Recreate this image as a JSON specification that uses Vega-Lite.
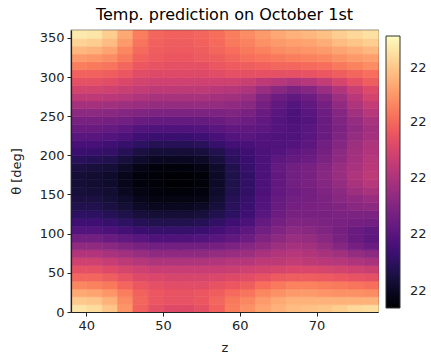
{
"$schema":"https://vega.github.io/schema/vega-lite/v6.json",
"width":307,"height":282,
"autosize":{"type":"none"},
"padding":{"left":71,"top":30,"right":53,"bottom":46},
"background":"white",
"title":{"text":"Temp. prediction on October 1st","fontSize":16,"fontWeight":"normal","font":"DejaVu Sans","color":"#000","anchor":"middle","offset":7},
"data":{"values":[
{"z":38,"t":0,"T":22.095},{"z":40,"t":0,"T":22.093},{"z":42,"t":0,"T":22.088},{"z":44,"t":0,"T":22.078},{"z":46,"t":0,"T":22.067},{"z":48,"t":0,"T":22.062},{"z":50,"t":0,"T":22.060},{"z":52,"t":0,"T":22.060},{"z":54,"t":0,"T":22.062},{"z":56,"t":0,"T":22.067},{"z":58,"t":0,"T":22.073},{"z":60,"t":0,"T":22.077},{"z":62,"t":0,"T":22.081},{"z":64,"t":0,"T":22.084},{"z":66,"t":0,"T":22.086},{"z":68,"t":0,"T":22.087},{"z":70,"t":0,"T":22.088},{"z":72,"t":0,"T":22.090},{"z":74,"t":0,"T":22.092},{"z":76,"t":0,"T":22.093},
{"z":38,"t":10,"T":22.089},{"z":40,"t":10,"T":22.088},{"z":42,"t":10,"T":22.084},{"z":44,"t":10,"T":22.076},{"z":46,"t":10,"T":22.068},{"z":48,"t":10,"T":22.064},{"z":50,"t":10,"T":22.063},{"z":52,"t":10,"T":22.063},{"z":54,"t":10,"T":22.064},{"z":56,"t":10,"T":22.068},{"z":58,"t":10,"T":22.072},{"z":60,"t":10,"T":22.075},{"z":62,"t":10,"T":22.079},{"z":64,"t":10,"T":22.082},{"z":66,"t":10,"T":22.084},{"z":68,"t":10,"T":22.084},{"z":70,"t":10,"T":22.084},{"z":72,"t":10,"T":22.084},{"z":74,"t":10,"T":22.084},{"z":76,"t":10,"T":22.084},
{"z":38,"t":20,"T":22.082},{"z":40,"t":20,"T":22.081},{"z":42,"t":20,"T":22.078},{"z":44,"t":20,"T":22.073},{"z":46,"t":20,"T":22.067},{"z":48,"t":20,"T":22.064},{"z":50,"t":20,"T":22.063},{"z":52,"t":20,"T":22.063},{"z":54,"t":20,"T":22.064},{"z":56,"t":20,"T":22.066},{"z":58,"t":20,"T":22.069},{"z":60,"t":20,"T":22.071},{"z":62,"t":20,"T":22.075},{"z":64,"t":20,"T":22.077},{"z":66,"t":20,"T":22.079},{"z":68,"t":20,"T":22.079},{"z":70,"t":20,"T":22.078},{"z":72,"t":20,"T":22.077},{"z":74,"t":20,"T":22.077},{"z":76,"t":20,"T":22.076},
{"z":38,"t":30,"T":22.075},{"z":40,"t":30,"T":22.074},{"z":42,"t":30,"T":22.072},{"z":44,"t":30,"T":22.068},{"z":46,"t":30,"T":22.064},{"z":48,"t":30,"T":22.062},{"z":50,"t":30,"T":22.061},{"z":52,"t":30,"T":22.061},{"z":54,"t":30,"T":22.061},{"z":56,"t":30,"T":22.063},{"z":58,"t":30,"T":22.064},{"z":60,"t":30,"T":22.066},{"z":62,"t":30,"T":22.070},{"z":64,"t":30,"T":22.072},{"z":66,"t":30,"T":22.074},{"z":68,"t":30,"T":22.074},{"z":70,"t":30,"T":22.073},{"z":72,"t":30,"T":22.072},{"z":74,"t":30,"T":22.071},{"z":76,"t":30,"T":22.070},
{"z":38,"t":40,"T":22.068},{"z":40,"t":40,"T":22.068},{"z":42,"t":40,"T":22.066},{"z":44,"t":40,"T":22.063},{"z":46,"t":40,"T":22.060},{"z":48,"t":40,"T":22.059},{"z":50,"t":40,"T":22.058},{"z":52,"t":40,"T":22.058},{"z":54,"t":40,"T":22.058},{"z":56,"t":40,"T":22.059},{"z":58,"t":40,"T":22.060},{"z":60,"t":40,"T":22.061},{"z":62,"t":40,"T":22.063},{"z":64,"t":40,"T":22.065},{"z":66,"t":40,"T":22.066},{"z":68,"t":40,"T":22.066},{"z":70,"t":40,"T":22.065},{"z":72,"t":40,"T":22.064},{"z":74,"t":40,"T":22.063},{"z":76,"t":40,"T":22.062},
{"z":38,"t":50,"T":22.062},{"z":40,"t":50,"T":22.062},{"z":42,"t":50,"T":22.060},{"z":44,"t":50,"T":22.058},{"z":46,"t":50,"T":22.056},{"z":48,"t":50,"T":22.054},{"z":50,"t":50,"T":22.054},{"z":52,"t":50,"T":22.054},{"z":54,"t":50,"T":22.054},{"z":56,"t":50,"T":22.054},{"z":58,"t":50,"T":22.055},{"z":60,"t":50,"T":22.056},{"z":62,"t":50,"T":22.057},{"z":64,"t":50,"T":22.058},{"z":66,"t":50,"T":22.059},{"z":68,"t":50,"T":22.059},{"z":70,"t":50,"T":22.058},{"z":72,"t":50,"T":22.057},{"z":74,"t":50,"T":22.056},{"z":76,"t":50,"T":22.055},
{"z":38,"t":60,"T":22.056},{"z":40,"t":60,"T":22.056},{"z":42,"t":60,"T":22.054},{"z":44,"t":60,"T":22.052},{"z":46,"t":60,"T":22.050},{"z":48,"t":60,"T":22.048},{"z":50,"t":60,"T":22.048},{"z":52,"t":60,"T":22.048},{"z":54,"t":60,"T":22.048},{"z":56,"t":60,"T":22.049},{"z":58,"t":60,"T":22.050},{"z":60,"t":60,"T":22.050},{"z":62,"t":60,"T":22.052},{"z":64,"t":60,"T":22.052},{"z":66,"t":60,"T":22.053},{"z":68,"t":60,"T":22.052},{"z":70,"t":60,"T":22.051},{"z":72,"t":60,"T":22.050},{"z":74,"t":60,"T":22.048},{"z":76,"t":60,"T":22.047},
{"z":38,"t":70,"T":22.049},{"z":40,"t":70,"T":22.049},{"z":42,"t":70,"T":22.047},{"z":44,"t":70,"T":22.045},{"z":46,"t":70,"T":22.043},{"z":48,"t":70,"T":22.041},{"z":50,"t":70,"T":22.041},{"z":52,"t":70,"T":22.041},{"z":54,"t":70,"T":22.041},{"z":56,"t":70,"T":22.042},{"z":58,"t":70,"T":22.043},{"z":60,"t":70,"T":22.044},{"z":62,"t":70,"T":22.047},{"z":64,"t":70,"T":22.049},{"z":66,"t":70,"T":22.050},{"z":68,"t":70,"T":22.049},{"z":70,"t":70,"T":22.047},{"z":72,"t":70,"T":22.045},{"z":74,"t":70,"T":22.042},{"z":76,"t":70,"T":22.040},
{"z":38,"t":80,"T":22.041},{"z":40,"t":80,"T":22.041},{"z":42,"t":80,"T":22.039},{"z":44,"t":80,"T":22.037},{"z":46,"t":80,"T":22.035},{"z":48,"t":80,"T":22.033},{"z":50,"t":80,"T":22.033},{"z":52,"t":80,"T":22.033},{"z":54,"t":80,"T":22.033},{"z":56,"t":80,"T":22.034},{"z":58,"t":80,"T":22.036},{"z":60,"t":80,"T":22.038},{"z":62,"t":80,"T":22.041},{"z":64,"t":80,"T":22.044},{"z":66,"t":80,"T":22.046},{"z":68,"t":80,"T":22.045},{"z":70,"t":80,"T":22.042},{"z":72,"t":80,"T":22.038},{"z":74,"t":80,"T":22.034},{"z":76,"t":80,"T":22.031},
{"z":38,"t":90,"T":22.033},{"z":40,"t":90,"T":22.033},{"z":42,"t":90,"T":22.031},{"z":44,"t":90,"T":22.029},{"z":46,"t":90,"T":22.027},{"z":48,"t":90,"T":22.025},{"z":50,"t":90,"T":22.025},{"z":52,"t":90,"T":22.025},{"z":54,"t":90,"T":22.026},{"z":56,"t":90,"T":22.027},{"z":58,"t":90,"T":22.029},{"z":60,"t":90,"T":22.032},{"z":62,"t":90,"T":22.037},{"z":64,"t":90,"T":22.040},{"z":66,"t":90,"T":22.043},{"z":68,"t":90,"T":22.042},{"z":70,"t":90,"T":22.039},{"z":72,"t":90,"T":22.035},{"z":74,"t":90,"T":22.031},{"z":76,"t":90,"T":22.028},
{"z":38,"t":100,"T":22.026},{"z":40,"t":100,"T":22.026},{"z":42,"t":100,"T":22.024},{"z":44,"t":100,"T":22.022},{"z":46,"t":100,"T":22.020},{"z":48,"t":100,"T":22.019},{"z":50,"t":100,"T":22.019},{"z":52,"t":100,"T":22.019},{"z":54,"t":100,"T":22.020},{"z":56,"t":100,"T":22.022},{"z":58,"t":100,"T":22.025},{"z":60,"t":100,"T":22.028},{"z":62,"t":100,"T":22.033},{"z":64,"t":100,"T":22.037},{"z":66,"t":100,"T":22.040},{"z":68,"t":100,"T":22.039},{"z":70,"t":100,"T":22.037},{"z":72,"t":100,"T":22.034},{"z":74,"t":100,"T":22.031},{"z":76,"t":100,"T":22.029},
{"z":38,"t":110,"T":22.021},{"z":40,"t":110,"T":22.021},{"z":42,"t":110,"T":22.019},{"z":44,"t":110,"T":22.017},{"z":46,"t":110,"T":22.015},{"z":48,"t":110,"T":22.014},{"z":50,"t":110,"T":22.014},{"z":52,"t":110,"T":22.014},{"z":54,"t":110,"T":22.015},{"z":56,"t":110,"T":22.018},{"z":58,"t":110,"T":22.021},{"z":60,"t":110,"T":22.024},{"z":62,"t":110,"T":22.030},{"z":64,"t":110,"T":22.034},{"z":66,"t":110,"T":22.037},{"z":68,"t":110,"T":22.037},{"z":70,"t":110,"T":22.036},{"z":72,"t":110,"T":22.035},{"z":74,"t":110,"T":22.034},{"z":76,"t":110,"T":22.033},
{"z":38,"t":120,"T":22.017},{"z":40,"t":120,"T":22.017},{"z":42,"t":120,"T":22.015},{"z":44,"t":120,"T":22.013},{"z":46,"t":120,"T":22.011},{"z":48,"t":120,"T":22.010},{"z":50,"t":120,"T":22.010},{"z":52,"t":120,"T":22.010},{"z":54,"t":120,"T":22.011},{"z":56,"t":120,"T":22.014},{"z":58,"t":120,"T":22.017},{"z":60,"t":120,"T":22.021},{"z":62,"t":120,"T":22.027},{"z":64,"t":120,"T":22.032},{"z":66,"t":120,"T":22.035},{"z":68,"t":120,"T":22.035},{"z":70,"t":120,"T":22.035},{"z":72,"t":120,"T":22.036},{"z":74,"t":120,"T":22.036},{"z":76,"t":120,"T":22.036},
{"z":38,"t":130,"T":22.014},{"z":40,"t":130,"T":22.014},{"z":42,"t":130,"T":22.012},{"z":44,"t":130,"T":22.010},{"z":46,"t":130,"T":22.007},{"z":48,"t":130,"T":22.006},{"z":50,"t":130,"T":22.006},{"z":52,"t":130,"T":22.006},{"z":54,"t":130,"T":22.007},{"z":56,"t":130,"T":22.011},{"z":58,"t":130,"T":22.016},{"z":60,"t":130,"T":22.020},{"z":62,"t":130,"T":22.026},{"z":64,"t":130,"T":22.031},{"z":66,"t":130,"T":22.034},{"z":68,"t":130,"T":22.035},{"z":70,"t":130,"T":22.036},{"z":72,"t":130,"T":22.037},{"z":74,"t":130,"T":22.039},{"z":76,"t":130,"T":22.040},
{"z":38,"t":140,"T":22.012},{"z":40,"t":140,"T":22.012},{"z":42,"t":140,"T":22.010},{"z":44,"t":140,"T":22.008},{"z":46,"t":140,"T":22.005},{"z":48,"t":140,"T":22.003},{"z":50,"t":140,"T":22.003},{"z":52,"t":140,"T":22.003},{"z":54,"t":140,"T":22.004},{"z":56,"t":140,"T":22.009},{"z":58,"t":140,"T":22.015},{"z":60,"t":140,"T":22.019},{"z":62,"t":140,"T":22.025},{"z":64,"t":140,"T":22.030},{"z":66,"t":140,"T":22.033},{"z":68,"t":140,"T":22.034},{"z":70,"t":140,"T":22.036},{"z":72,"t":140,"T":22.039},{"z":74,"t":140,"T":22.041},{"z":76,"t":140,"T":22.043},
{"z":38,"t":150,"T":22.011},{"z":40,"t":150,"T":22.010},{"z":42,"t":150,"T":22.009},{"z":44,"t":150,"T":22.006},{"z":46,"t":150,"T":22.003},{"z":48,"t":150,"T":22.002},{"z":50,"t":150,"T":22.001},{"z":52,"t":150,"T":22.001},{"z":54,"t":150,"T":22.002},{"z":56,"t":150,"T":22.008},{"z":58,"t":150,"T":22.014},{"z":60,"t":150,"T":22.018},{"z":62,"t":150,"T":22.024},{"z":64,"t":150,"T":22.029},{"z":66,"t":150,"T":22.032},{"z":68,"t":150,"T":22.034},{"z":70,"t":150,"T":22.037},{"z":72,"t":150,"T":22.040},{"z":74,"t":150,"T":22.044},{"z":76,"t":150,"T":22.047},
{"z":38,"t":160,"T":22.010},{"z":40,"t":160,"T":22.009},{"z":42,"t":160,"T":22.008},{"z":44,"t":160,"T":22.005},{"z":46,"t":160,"T":22.002},{"z":48,"t":160,"T":22.001},{"z":50,"t":160,"T":22.000},{"z":52,"t":160,"T":22.000},{"z":54,"t":160,"T":22.001},{"z":56,"t":160,"T":22.007},{"z":58,"t":160,"T":22.013},{"z":60,"t":160,"T":22.018},{"z":62,"t":160,"T":22.024},{"z":64,"t":160,"T":22.029},{"z":66,"t":160,"T":22.033},{"z":68,"t":160,"T":22.035},{"z":70,"t":160,"T":22.038},{"z":72,"t":160,"T":22.042},{"z":74,"t":160,"T":22.047},{"z":76,"t":160,"T":22.050},
{"z":38,"t":170,"T":22.010},{"z":40,"t":170,"T":22.009},{"z":42,"t":170,"T":22.008},{"z":44,"t":170,"T":22.005},{"z":46,"t":170,"T":22.002},{"z":48,"t":170,"T":22.001},{"z":50,"t":170,"T":22.000},{"z":52,"t":170,"T":22.000},{"z":54,"t":170,"T":22.001},{"z":56,"t":170,"T":22.007},{"z":58,"t":170,"T":22.013},{"z":60,"t":170,"T":22.018},{"z":62,"t":170,"T":22.024},{"z":64,"t":170,"T":22.029},{"z":66,"t":170,"T":22.033},{"z":68,"t":170,"T":22.035},{"z":70,"t":170,"T":22.039},{"z":72,"t":170,"T":22.043},{"z":74,"t":170,"T":22.048},{"z":76,"t":170,"T":22.052},
{"z":38,"t":180,"T":22.012},{"z":40,"t":180,"T":22.011},{"z":42,"t":180,"T":22.010},{"z":44,"t":180,"T":22.007},{"z":46,"t":180,"T":22.004},{"z":48,"t":180,"T":22.002},{"z":50,"t":180,"T":22.002},{"z":52,"t":180,"T":22.002},{"z":54,"t":180,"T":22.003},{"z":56,"t":180,"T":22.008},{"z":58,"t":180,"T":22.014},{"z":60,"t":180,"T":22.019},{"z":62,"t":180,"T":22.024},{"z":64,"t":180,"T":22.030},{"z":66,"t":180,"T":22.033},{"z":68,"t":180,"T":22.035},{"z":70,"t":180,"T":22.038},{"z":72,"t":180,"T":22.043},{"z":74,"t":180,"T":22.047},{"z":76,"t":180,"T":22.051},
{"z":38,"t":190,"T":22.016},{"z":40,"t":190,"T":22.015},{"z":42,"t":190,"T":22.014},{"z":44,"t":190,"T":22.011},{"z":46,"t":190,"T":22.008},{"z":48,"t":190,"T":22.006},{"z":50,"t":190,"T":22.006},{"z":52,"t":190,"T":22.006},{"z":54,"t":190,"T":22.007},{"z":56,"t":190,"T":22.011},{"z":58,"t":190,"T":22.016},{"z":60,"t":190,"T":22.020},{"z":62,"t":190,"T":22.024},{"z":64,"t":190,"T":22.028},{"z":66,"t":190,"T":22.030},{"z":68,"t":190,"T":22.032},{"z":70,"t":190,"T":22.036},{"z":72,"t":190,"T":22.041},{"z":74,"t":190,"T":22.046},{"z":76,"t":190,"T":22.050},
{"z":38,"t":200,"T":22.020},{"z":40,"t":200,"T":22.019},{"z":42,"t":200,"T":22.018},{"z":44,"t":200,"T":22.015},{"z":46,"t":200,"T":22.012},{"z":48,"t":200,"T":22.010},{"z":50,"t":200,"T":22.010},{"z":52,"t":200,"T":22.010},{"z":54,"t":200,"T":22.011},{"z":56,"t":200,"T":22.014},{"z":58,"t":200,"T":22.018},{"z":60,"t":200,"T":22.021},{"z":62,"t":200,"T":22.024},{"z":64,"t":200,"T":22.026},{"z":66,"t":200,"T":22.028},{"z":68,"t":200,"T":22.030},{"z":70,"t":200,"T":22.034},{"z":72,"t":200,"T":22.040},{"z":74,"t":200,"T":22.045},{"z":76,"t":200,"T":22.049},
{"z":38,"t":210,"T":22.023},{"z":40,"t":210,"T":22.023},{"z":42,"t":210,"T":22.021},{"z":44,"t":210,"T":22.019},{"z":46,"t":210,"T":22.017},{"z":48,"t":210,"T":22.015},{"z":50,"t":210,"T":22.015},{"z":52,"t":210,"T":22.015},{"z":54,"t":210,"T":22.016},{"z":56,"t":210,"T":22.019},{"z":58,"t":210,"T":22.022},{"z":60,"t":210,"T":22.023},{"z":62,"t":210,"T":22.025},{"z":64,"t":210,"T":22.025},{"z":66,"t":210,"T":22.026},{"z":68,"t":210,"T":22.028},{"z":70,"t":210,"T":22.033},{"z":72,"t":210,"T":22.038},{"z":74,"t":210,"T":22.044},{"z":76,"t":210,"T":22.048},
{"z":38,"t":220,"T":22.027},{"z":40,"t":220,"T":22.027},{"z":42,"t":220,"T":22.026},{"z":44,"t":220,"T":22.024},{"z":46,"t":220,"T":22.021},{"z":48,"t":220,"T":22.020},{"z":50,"t":220,"T":22.020},{"z":52,"t":220,"T":22.020},{"z":54,"t":220,"T":22.021},{"z":56,"t":220,"T":22.023},{"z":58,"t":220,"T":22.026},{"z":60,"t":220,"T":22.027},{"z":62,"t":220,"T":22.026},{"z":64,"t":220,"T":22.025},{"z":66,"t":220,"T":22.025},{"z":68,"t":220,"T":22.027},{"z":70,"t":220,"T":22.031},{"z":72,"t":220,"T":22.037},{"z":74,"t":220,"T":22.042},{"z":76,"t":220,"T":22.046},
{"z":38,"t":230,"T":22.031},{"z":40,"t":230,"T":22.031},{"z":42,"t":230,"T":22.030},{"z":44,"t":230,"T":22.028},{"z":46,"t":230,"T":22.026},{"z":48,"t":230,"T":22.025},{"z":50,"t":230,"T":22.025},{"z":52,"t":230,"T":22.025},{"z":54,"t":230,"T":22.026},{"z":56,"t":230,"T":22.027},{"z":58,"t":230,"T":22.029},{"z":60,"t":230,"T":22.029},{"z":62,"t":230,"T":22.028},{"z":64,"t":230,"T":22.026},{"z":66,"t":230,"T":22.025},{"z":68,"t":230,"T":22.027},{"z":70,"t":230,"T":22.031},{"z":72,"t":230,"T":22.036},{"z":74,"t":230,"T":22.041},{"z":76,"t":230,"T":22.045},
{"z":38,"t":240,"T":22.035},{"z":40,"t":240,"T":22.035},{"z":42,"t":240,"T":22.034},{"z":44,"t":240,"T":22.033},{"z":46,"t":240,"T":22.031},{"z":48,"t":240,"T":22.030},{"z":50,"t":240,"T":22.030},{"z":52,"t":240,"T":22.030},{"z":54,"t":240,"T":22.030},{"z":56,"t":240,"T":22.031},{"z":58,"t":240,"T":22.033},{"z":60,"t":240,"T":22.032},{"z":62,"t":240,"T":22.029},{"z":64,"t":240,"T":22.026},{"z":66,"t":240,"T":22.024},{"z":68,"t":240,"T":22.026},{"z":70,"t":240,"T":22.031},{"z":72,"t":240,"T":22.037},{"z":74,"t":240,"T":22.042},{"z":76,"t":240,"T":22.047},
{"z":38,"t":250,"T":22.040},{"z":40,"t":250,"T":22.040},{"z":42,"t":250,"T":22.039},{"z":44,"t":250,"T":22.038},{"z":46,"t":250,"T":22.037},{"z":48,"t":250,"T":22.036},{"z":50,"t":250,"T":22.036},{"z":52,"t":250,"T":22.036},{"z":54,"t":250,"T":22.036},{"z":56,"t":250,"T":22.036},{"z":58,"t":250,"T":22.037},{"z":60,"t":250,"T":22.035},{"z":62,"t":250,"T":22.031},{"z":64,"t":250,"T":22.027},{"z":66,"t":250,"T":22.024},{"z":68,"t":250,"T":22.027},{"z":70,"t":250,"T":22.032},{"z":72,"t":250,"T":22.038},{"z":74,"t":250,"T":22.045},{"z":76,"t":250,"T":22.050},
{"z":38,"t":260,"T":22.046},{"z":40,"t":260,"T":22.046},{"z":42,"t":260,"T":22.045},{"z":44,"t":260,"T":22.044},{"z":46,"t":260,"T":22.043},{"z":48,"t":260,"T":22.042},{"z":50,"t":260,"T":22.042},{"z":52,"t":260,"T":22.042},{"z":54,"t":260,"T":22.042},{"z":56,"t":260,"T":22.042},{"z":58,"t":260,"T":22.041},{"z":60,"t":260,"T":22.039},{"z":62,"t":260,"T":22.034},{"z":64,"t":260,"T":22.029},{"z":66,"t":260,"T":22.026},{"z":68,"t":260,"T":22.029},{"z":70,"t":260,"T":22.034},{"z":72,"t":260,"T":22.041},{"z":74,"t":260,"T":22.048},{"z":76,"t":260,"T":22.053},
{"z":38,"t":270,"T":22.052},{"z":40,"t":270,"T":22.052},{"z":42,"t":270,"T":22.051},{"z":44,"t":270,"T":22.050},{"z":46,"t":270,"T":22.048},{"z":48,"t":270,"T":22.047},{"z":50,"t":270,"T":22.047},{"z":52,"t":270,"T":22.047},{"z":54,"t":270,"T":22.047},{"z":56,"t":270,"T":22.046},{"z":58,"t":270,"T":22.045},{"z":60,"t":270,"T":22.043},{"z":62,"t":270,"T":22.037},{"z":64,"t":270,"T":22.032},{"z":66,"t":270,"T":22.029},{"z":68,"t":270,"T":22.032},{"z":70,"t":270,"T":22.037},{"z":72,"t":270,"T":22.044},{"z":74,"t":270,"T":22.051},{"z":76,"t":270,"T":22.057},
{"z":38,"t":280,"T":22.057},{"z":40,"t":280,"T":22.057},{"z":42,"t":280,"T":22.056},{"z":44,"t":280,"T":22.055},{"z":46,"t":280,"T":22.053},{"z":48,"t":280,"T":22.052},{"z":50,"t":280,"T":22.052},{"z":52,"t":280,"T":22.052},{"z":54,"t":280,"T":22.052},{"z":56,"t":280,"T":22.051},{"z":58,"t":280,"T":22.050},{"z":60,"t":280,"T":22.048},{"z":62,"t":280,"T":22.043},{"z":64,"t":280,"T":22.039},{"z":66,"t":280,"T":22.036},{"z":68,"t":280,"T":22.038},{"z":70,"t":280,"T":22.043},{"z":72,"t":280,"T":22.049},{"z":74,"t":280,"T":22.055},{"z":76,"t":280,"T":22.060},
{"z":38,"t":290,"T":22.062},{"z":40,"t":290,"T":22.062},{"z":42,"t":290,"T":22.061},{"z":44,"t":290,"T":22.059},{"z":46,"t":290,"T":22.057},{"z":48,"t":290,"T":22.056},{"z":50,"t":290,"T":22.056},{"z":52,"t":290,"T":22.056},{"z":54,"t":290,"T":22.056},{"z":56,"t":290,"T":22.056},{"z":58,"t":290,"T":22.056},{"z":60,"t":290,"T":22.055},{"z":62,"t":290,"T":22.052},{"z":64,"t":290,"T":22.050},{"z":66,"t":290,"T":22.048},{"z":68,"t":290,"T":22.050},{"z":70,"t":290,"T":22.053},{"z":72,"t":290,"T":22.058},{"z":74,"t":290,"T":22.062},{"z":76,"t":290,"T":22.066},
{"z":38,"t":300,"T":22.067},{"z":40,"t":300,"T":22.067},{"z":42,"t":300,"T":22.066},{"z":44,"t":300,"T":22.064},{"z":46,"t":300,"T":22.061},{"z":48,"t":300,"T":22.060},{"z":50,"t":300,"T":22.060},{"z":52,"t":300,"T":22.060},{"z":54,"t":300,"T":22.060},{"z":56,"t":300,"T":22.061},{"z":58,"t":300,"T":22.062},{"z":60,"t":300,"T":22.062},{"z":62,"t":300,"T":22.062},{"z":64,"t":300,"T":22.062},{"z":66,"t":300,"T":22.062},{"z":68,"t":300,"T":22.063},{"z":70,"t":300,"T":22.064},{"z":72,"t":300,"T":22.066},{"z":74,"t":300,"T":22.068},{"z":76,"t":300,"T":22.070},
{"z":38,"t":310,"T":22.073},{"z":40,"t":310,"T":22.072},{"z":42,"t":310,"T":22.071},{"z":44,"t":310,"T":22.068},{"z":46,"t":310,"T":22.064},{"z":48,"t":310,"T":22.063},{"z":50,"t":310,"T":22.062},{"z":52,"t":310,"T":22.062},{"z":54,"t":310,"T":22.062},{"z":56,"t":310,"T":22.064},{"z":58,"t":310,"T":22.065},{"z":60,"t":310,"T":22.066},{"z":62,"t":310,"T":22.067},{"z":64,"t":310,"T":22.068},{"z":66,"t":310,"T":22.068},{"z":68,"t":310,"T":22.069},{"z":70,"t":310,"T":22.070},{"z":72,"t":310,"T":22.072},{"z":74,"t":310,"T":22.074},{"z":76,"t":310,"T":22.076},
{"z":38,"t":320,"T":22.079},{"z":40,"t":320,"T":22.078},{"z":42,"t":320,"T":22.076},{"z":44,"t":320,"T":22.072},{"z":46,"t":320,"T":22.067},{"z":48,"t":320,"T":22.065},{"z":50,"t":320,"T":22.064},{"z":52,"t":320,"T":22.064},{"z":54,"t":320,"T":22.065},{"z":56,"t":320,"T":22.066},{"z":58,"t":320,"T":22.068},{"z":60,"t":320,"T":22.070},{"z":62,"t":320,"T":22.071},{"z":64,"t":320,"T":22.072},{"z":66,"t":320,"T":22.073},{"z":68,"t":320,"T":22.074},{"z":70,"t":320,"T":22.075},{"z":72,"t":320,"T":22.077},{"z":74,"t":320,"T":22.079},{"z":76,"t":320,"T":22.080},
{"z":38,"t":330,"T":22.085},{"z":40,"t":330,"T":22.084},{"z":42,"t":330,"T":22.081},{"z":44,"t":330,"T":22.075},{"z":46,"t":330,"T":22.069},{"z":48,"t":330,"T":22.066},{"z":50,"t":330,"T":22.065},{"z":52,"t":330,"T":22.065},{"z":54,"t":330,"T":22.066},{"z":56,"t":330,"T":22.068},{"z":58,"t":330,"T":22.070},{"z":60,"t":330,"T":22.072},{"z":62,"t":330,"T":22.074},{"z":64,"t":330,"T":22.076},{"z":66,"t":330,"T":22.077},{"z":68,"t":330,"T":22.078},{"z":70,"t":330,"T":22.079},{"z":72,"t":330,"T":22.081},{"z":74,"t":330,"T":22.083},{"z":76,"t":330,"T":22.085},
{"z":38,"t":340,"T":22.091},{"z":40,"t":340,"T":22.090},{"z":42,"t":340,"T":22.086},{"z":44,"t":340,"T":22.079},{"z":46,"t":340,"T":22.071},{"z":48,"t":340,"T":22.067},{"z":50,"t":340,"T":22.066},{"z":52,"t":340,"T":22.066},{"z":54,"t":340,"T":22.067},{"z":56,"t":340,"T":22.069},{"z":58,"t":340,"T":22.072},{"z":60,"t":340,"T":22.074},{"z":62,"t":340,"T":22.077},{"z":64,"t":340,"T":22.079},{"z":66,"t":340,"T":22.080},{"z":68,"t":340,"T":22.081},{"z":70,"t":340,"T":22.083},{"z":72,"t":340,"T":22.086},{"z":74,"t":340,"T":22.088},{"z":76,"t":340,"T":22.090},
{"z":38,"t":350,"T":22.096},{"z":40,"t":350,"T":22.095},{"z":42,"t":350,"T":22.090},{"z":44,"t":350,"T":22.082},{"z":46,"t":350,"T":22.073},{"z":48,"t":350,"T":22.068},{"z":50,"t":350,"T":22.067},{"z":52,"t":350,"T":22.067},{"z":54,"t":350,"T":22.068},{"z":56,"t":350,"T":22.070},{"z":58,"t":350,"T":22.073},{"z":60,"t":350,"T":22.076},{"z":62,"t":350,"T":22.079},{"z":64,"t":350,"T":22.082},{"z":66,"t":350,"T":22.084},{"z":68,"t":350,"T":22.085},{"z":70,"t":350,"T":22.087},{"z":72,"t":350,"T":22.090},{"z":74,"t":350,"T":22.092},{"z":76,"t":350,"T":22.094}
]},
"mark":{"type":"rect","binSpacing":0,"strokeWidth":0.6},
"encoding":{
"x":{"field":"z","type":"quantitative","bin":{"binned":true,"step":2},"scale":{"domain":[38,78],"nice":false,"zero":false},"axis":{"values":[40,50,60,70],"title":"z","titlePadding":9}},
"y":{"field":"t","type":"quantitative","bin":{"binned":true,"step":10},"scale":{"domain":[0,360],"nice":false,"zero":false},"axis":{"values":[0,50,100,150,200,250,300,350],"title":"θ [deg]","titlePadding":16}},
"color":{"field":"T","type":"quantitative","scale":{"scheme":"magma","domain":[22,22.1]},"legend":{"type":"gradient","orient":"none","legendX":315,"legendY":6,"direction":"vertical","title":null,"gradientLength":272,"gradientThickness":14,"gradientStrokeColor":"#333","gradientStrokeWidth":1,"values":[22.00625,22.0272,22.0478,22.0684,22.0882],"format":".0f","labelFontSize":13,"labelFont":"DejaVu Sans","labelColor":"#222","labelOffset":10,"labelOverlap":false}},
"stroke":{"field":"T","type":"quantitative","scale":{"scheme":"magma","domain":[21.99999,22.1]},"legend":null}
},
"config":{
"view":{"stroke":"#222","strokeWidth":1.2},
"axis":{"grid":false,"domainColor":"#222","domainWidth":1.2,"tickColor":"#222","tickSize":4,"tickWidth":1,"labelColor":"#222","titleColor":"#222","labelFont":"DejaVu Sans","titleFont":"DejaVu Sans","labelFontSize":13,"titleFontSize":13,"titleFontWeight":"normal","labelPadding":3}
}
}
